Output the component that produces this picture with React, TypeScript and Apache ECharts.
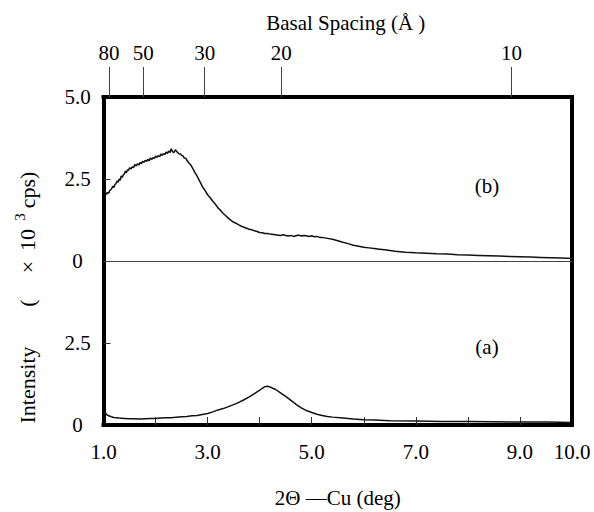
import React, { useEffect, useRef } from "react";
import * as echarts from "echarts";

// 2θ (deg) and intensity (×10^3 cps)
const curveB: [number, number][] = [
  [1.0, 2.12], [1.02, 2.16], [1.04, 2.08], [1.06, 2.03], [1.08, 2.09], [1.1, 2.07], [1.12, 2.15],
  [1.15, 2.19], [1.18, 2.28], [1.2, 2.24], [1.22, 2.33], [1.24, 2.36], [1.26, 2.44], [1.28, 2.4],
  [1.3, 2.5], [1.32, 2.46], [1.34, 2.59], [1.36, 2.55], [1.38, 2.62], [1.4, 2.66], [1.42, 2.74],
  [1.44, 2.69], [1.46, 2.78], [1.48, 2.76], [1.5, 2.84], [1.53, 2.81], [1.55, 2.87], [1.58, 2.85],
  [1.6, 2.94], [1.63, 2.9], [1.65, 2.96], [1.68, 2.93], [1.7, 3.0], [1.73, 2.97], [1.75, 3.04],
  [1.78, 3.01], [1.8, 3.07], [1.83, 3.04], [1.85, 3.1], [1.88, 3.06], [1.9, 3.14], [1.93, 3.1],
  [1.95, 3.15], [1.98, 3.13], [2.0, 3.2], [2.03, 3.16], [2.05, 3.21], [2.08, 3.18], [2.1, 3.26],
  [2.13, 3.22], [2.15, 3.27], [2.18, 3.25], [2.2, 3.32], [2.23, 3.28], [2.25, 3.35], [2.28, 3.31],
  [2.3, 3.42], [2.33, 3.33], [2.35, 3.3], [2.38, 3.39], [2.4, 3.35], [2.43, 3.3], [2.45, 3.27],
  [2.48, 3.26], [2.5, 3.22], [2.53, 3.2], [2.55, 3.14], [2.58, 3.13], [2.6, 3.08], [2.63, 3.01],
  [2.65, 2.97], [2.68, 2.92], [2.7, 2.86], [2.73, 2.78], [2.75, 2.71], [2.78, 2.64], [2.8, 2.58],
  [2.85, 2.43], [2.9, 2.27], [2.95, 2.15], [3.0, 2.02], [3.05, 1.93], [3.1, 1.82], [3.15, 1.73],
  [3.2, 1.62], [3.25, 1.54], [3.3, 1.45], [3.35, 1.38], [3.4, 1.3], [3.45, 1.24], [3.5, 1.18],
  [3.55, 1.15], [3.6, 1.1], [3.65, 1.06], [3.7, 1.03], [3.75, 1.0], [3.8, 0.97], [3.85, 0.95],
  [3.9, 0.92], [3.95, 0.9], [4.0, 0.87], [4.05, 0.86], [4.1, 0.84], [4.15, 0.84], [4.2, 0.82],
  [4.3, 0.8], [4.4, 0.78], [4.45, 0.8], [4.5, 0.78], [4.55, 0.76], [4.6, 0.78], [4.65, 0.75],
  [4.7, 0.77], [4.75, 0.79], [4.8, 0.76], [4.85, 0.78], [4.9, 0.77], [4.95, 0.75], [5.0, 0.77],
  [5.05, 0.74], [5.1, 0.75], [5.15, 0.72], [5.2, 0.72], [5.3, 0.69], [5.4, 0.66], [5.5, 0.62],
  [5.6, 0.57], [5.7, 0.53], [5.8, 0.48], [5.9, 0.45], [6.0, 0.42], [6.1, 0.4], [6.2, 0.38],
  [6.3, 0.36], [6.4, 0.34], [6.5, 0.32], [6.6, 0.3], [6.8, 0.27], [7.0, 0.25], [7.2, 0.24],
  [7.4, 0.22], [7.6, 0.21], [7.8, 0.19], [8.0, 0.18], [8.2, 0.17], [8.4, 0.16], [8.6, 0.15],
  [8.8, 0.14], [9.0, 0.13], [9.2, 0.12], [9.4, 0.11], [9.6, 0.1], [9.8, 0.09], [10.0, 0.08],
];

const curveA: [number, number][] = [
  [1.0, 0.45], [1.03, 0.38], [1.06, 0.32], [1.1, 0.28], [1.15, 0.25], [1.2, 0.23], [1.3, 0.21],
  [1.4, 0.2], [1.5, 0.19], [1.6, 0.19], [1.7, 0.18], [1.8, 0.19], [1.9, 0.2], [2.0, 0.2],
  [2.1, 0.21], [2.2, 0.22], [2.3, 0.22], [2.4, 0.24], [2.5, 0.25], [2.6, 0.26], [2.7, 0.28],
  [2.8, 0.29], [2.9, 0.32], [3.0, 0.35], [3.1, 0.4], [3.2, 0.46], [3.3, 0.5], [3.4, 0.56],
  [3.5, 0.62], [3.6, 0.69], [3.7, 0.77], [3.8, 0.86], [3.9, 0.96], [4.0, 1.06], [4.05, 1.12],
  [4.1, 1.17], [4.15, 1.18], [4.2, 1.16], [4.25, 1.12], [4.3, 1.09], [4.4, 0.98], [4.5, 0.87],
  [4.6, 0.75], [4.7, 0.63], [4.8, 0.52], [4.9, 0.44], [5.0, 0.38], [5.1, 0.33], [5.2, 0.29],
  [5.3, 0.26], [5.4, 0.24], [5.6, 0.21], [5.8, 0.18], [6.0, 0.16], [6.2, 0.15], [6.5, 0.13],
  [7.0, 0.12], [7.5, 0.11], [8.0, 0.11], [8.5, 0.1], [9.0, 0.09], [9.5, 0.09], [10.0, 0.08],
];

const bottomLabels = [1, 3, 5, 7, 9, 10];
const bottomTicks = [2, 3, 4, 5, 6, 7, 8, 9];
const basalSpacing = [80, 50, 30, 20, 10]; // Å
const upperYLabels = [0, 2.5, 5];
const lowerYLabels = [0, 2.5];
const yTicks = [2.5];
const LAMBDA = 1.5406; // Cu Kα, Å

const twoTheta = (d: number) => (2 * Math.asin(LAMBDA / (2 * d)) * 180) / Math.PI;
const basalTicks = basalSpacing.map(twoTheta);
const toD = (t: number) => Math.round(LAMBDA / (2 * Math.sin(((t / 2) * Math.PI) / 180)));

const FONT = "Liberation Serif";
const BORDER = { color: "#000", width: 4, cap: "square" as const };

const vText = (text: string, x: number, y: number, size = 22) => ({
  type: "text",
  x,
  y,
  rotation: Math.PI / 2,
  style: { text, fontFamily: FONT, fontSize: size, fill: "#000", align: "center", verticalAlign: "middle" },
});

export default function App() {
  const ref = useRef<HTMLDivElement>(null);
  useEffect(() => {
    if (!ref.current) return;
    const chart = echarts.init(ref.current, undefined, { renderer: "svg" });
    const yFmt = (v: number) => (v === 0 ? "0" : v.toFixed(1));
    const leftY = (gridIndex: number, labels: number[]) => ({
      type: "value",
      gridIndex,
      position: "left",
      min: 0,
      max: 5,
      axisLine: { show: true, onZero: false, lineStyle: BORDER },
      axisTick: { show: true, inside: true, length: 7, customValues: yTicks, lineStyle: { color: "#333", width: 1 } },
      axisLabel: {
        customValues: labels,
        formatter: yFmt,
        align: "center",
        margin: 26,
        fontFamily: FONT,
        fontSize: 21,
        color: "#000",
      },
      splitLine: { show: false },
    });
    const rightY = (gridIndex: number) => ({
      type: "value",
      gridIndex,
      position: "right",
      min: 0,
      max: 5,
      axisLine: { show: true, onZero: false, lineStyle: BORDER },
      axisTick: { show: false },
      axisLabel: { show: false },
      splitLine: { show: false },
    });
    chart.setOption({
      animation: false,
      backgroundColor: "#fff",
      textStyle: { fontFamily: FONT },
      grid: [
        { left: 103.5, right: 22, top: 97, height: 164 },
        { left: 103.5, right: 22, top: 261, height: 164 },
      ],
      xAxis: [
        {
          type: "value",
          gridIndex: 0,
          position: "top",
          min: 1,
          max: 10,
          axisLine: { show: true, onZero: false, lineStyle: BORDER },
          axisTick: { show: true, inside: false, length: 30, customValues: basalTicks, lineStyle: { color: "#444", width: 1 } },
          axisLabel: {
            customValues: basalTicks,
            formatter: (v: number) => String(toD(v)),
            margin: 34,
            fontFamily: FONT,
            fontSize: 21,
            color: "#000",
          },
          splitLine: { show: false },
          name: "Basal Spacing (Å )",
          nameLocation: "middle",
          nameGap: 64,
          nameTextStyle: { fontFamily: FONT, fontSize: 21, color: "#000", padding: [0, 0, 0, 16] },
        },
        {
          type: "value",
          gridIndex: 0,
          position: "bottom",
          min: 1,
          max: 10,
          axisLine: { show: true, onZero: false, lineStyle: { color: "#444", width: 1 } },
          axisTick: { show: false },
          axisLabel: { show: false },
          splitLine: { show: false },
        },
        {
          type: "value",
          gridIndex: 1,
          position: "bottom",
          min: 1,
          max: 10,
          axisLine: { show: true, onZero: false, lineStyle: BORDER },
          axisTick: { show: true, inside: true, length: 8, customValues: bottomTicks, lineStyle: { color: "#333", width: 1 } },
          axisLabel: {
            customValues: bottomLabels,
            formatter: (v: number) => v.toFixed(1),
            margin: 16,
            fontFamily: FONT,
            fontSize: 21,
            color: "#000",
          },
          splitLine: { show: false },
          name: "2Θ —Cu (deg)",
          nameLocation: "middle",
          nameGap: 62,
          nameTextStyle: { fontFamily: FONT, fontSize: 21, color: "#000" },
        },
      ],
      yAxis: [leftY(0, upperYLabels), rightY(0), leftY(1, lowerYLabels), rightY(1)],
      series: [
        {
          name: "(b)",
          type: "line",
          xAxisIndex: 1,
          yAxisIndex: 0,
          data: curveB,
          showSymbol: false,
          lineStyle: { color: "#111", width: 1.5 },
        },
        {
          name: "(a)",
          type: "line",
          xAxisIndex: 2,
          yAxisIndex: 2,
          data: curveA,
          showSymbol: false,
          lineStyle: { color: "#111", width: 1.5 },
        },
      ],
      graphic: [
        vText("Intensity", 27, 385, 22),
        vText("(", 27, 303, 22),
        vText("×", 27, 267, 22),
        vText("10", 27, 240, 22),
        vText("3", 20, 217, 15),
        vText("cps)", 27, 190, 22),
        {
          type: "text",
          x: 487,
          y: 186,
          style: { text: "(b)", fontFamily: FONT, fontSize: 21, fill: "#000", align: "center", verticalAlign: "middle" },
        },
        {
          type: "text",
          x: 487,
          y: 347,
          style: { text: "(a)", fontFamily: FONT, fontSize: 21, fill: "#000", align: "center", verticalAlign: "middle" },
        },
      ],
    });
    return () => chart.dispose();
  }, []);
  return <div ref={ref} style={{ position: "fixed", left: 0, top: 0, width: 594, height: 512 }} />;
}
